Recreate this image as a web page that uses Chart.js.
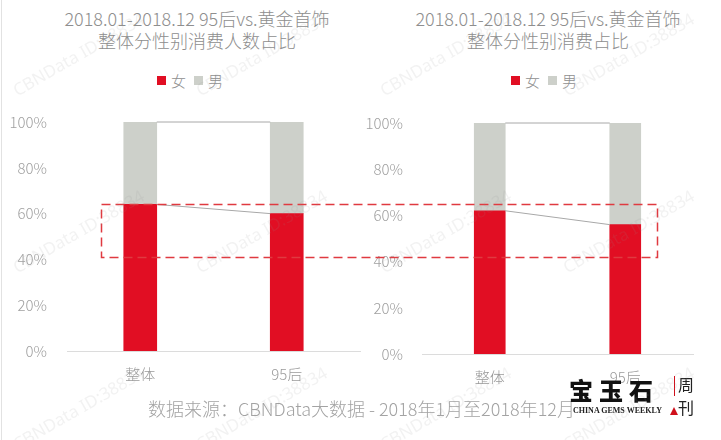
<!DOCTYPE html>
<html>
<head>
<meta charset="utf-8">
<script src="https://cdn.jsdelivr.net/npm/chart.js@4"></script>
<style>
  html, body { margin:0; padding:0; background:#fff; }
  body { width:721px; height:440px; position:relative; overflow:hidden; font-family:"Noto Sans CJK SC","Noto Sans",sans-serif; }
  .abs { position:absolute; }
  .title { color:#8e8e8e; font-size:18px; line-height:22px; text-align:center; white-space:nowrap; font-weight:300; }
  .legend { display:flex; align-items:center; font-size:15px; color:#8f8f8f; white-space:nowrap; font-weight:300; }
  .sw { width:9px; height:9px; display:inline-block; margin-right:5px; }
  .footer { color:#a3a3a3; font-size:18px; white-space:nowrap; font-weight:300; }
  .wm { color:rgba(150,150,150,0.12); font-size:17px; white-space:nowrap; transform-origin:0 100%; transform:rotate(-30deg); font-family:"Noto Sans","DejaVu Sans",sans-serif; }
</style>
</head>
<body>
<div class="abs" style="left:1px;top:0;width:1px;height:440px;background:#e2e2e2"></div>

<div class="abs title" style="left:0;top:7px;width:394px">2018.01-2018.12 95后vs.黄金首饰<br>整体分性别消费人数占比</div>
<div class="abs title" style="left:368px;top:7px;width:360px">2018.01-2018.12 95后vs.黄金首饰<br>整体分性别消费占比</div>

<div class="abs legend" style="left:157px;top:70px"><span class="sw" style="background:#e10e23"></span>女<span class="sw" style="background:#cdd0ca;margin-left:8px"></span>男</div>
<div class="abs legend" style="left:511px;top:70px"><span class="sw" style="background:#e10e23"></span>女<span class="sw" style="background:#cdd0ca;margin-left:8px"></span>男</div>

<canvas id="c1" class="abs" style="left:0;top:100px" width="362" height="290"></canvas>
<canvas id="c2" class="abs" style="left:360px;top:100px" width="361" height="290"></canvas>
<canvas id="ov" class="abs" style="left:0;top:0;pointer-events:none" width="721" height="440"></canvas>

<div class="abs footer" style="left:148px;top:395px">数据来源：CBNData大数据 - 2018年1月至2018年12月</div>

<div class="abs" style="left:569px;top:372px;font-size:24px;font-weight:900;color:#111;letter-spacing:6px;font-family:'Noto Sans CJK SC',serif">宝玉石</div>
<div class="abs" style="left:573px;top:406px;font-size:8px;font-weight:bold;color:#222;font-family:'Liberation Serif','DejaVu Serif',serif;background:#fff;padding-right:1px">CHINA GEMS WEEKLY</div>
<div class="abs" style="left:670px;top:407px;width:0;height:0;border-left:4px solid transparent;border-right:4px solid transparent;border-bottom:8px solid #d0101c"></div>
<div class="abs" style="left:674px;top:376px;width:1px;height:20px;background:#d0101c"></div>
<div class="abs" style="left:678px;top:373px;font-size:16px;line-height:23px;color:#222;font-family:'Noto Sans CJK SC',sans-serif">周<br>刊</div>

<div id="wms"></div>

<script>
// ---- data ----
const categories = ['整体', '95后'];
const femaleLeft  = [64, 60];
const maleLeft    = [36, 40];
const femaleRight = [62, 56];
const maleRight   = [38, 44];
const seriesNames = ['女', '男'];
const yTickValues = [0, 20, 40, 60, 80, 100];
const highlightRange = [41, 64];

const RED = '#e10e23';
const GREY = '#cdd0ca';

const seriesLines = {
  id: 'seriesLines',
  afterDatasetsDraw(chart) {
    const ctx = chart.ctx;
    ctx.save();
    ctx.strokeStyle = '#a8a8a8';
    ctx.lineWidth = 1;
    for (let d = 0; d < chart.data.datasets.length; d++) {
      const bars = chart.getDatasetMeta(d).data;
      for (let i = 0; i < bars.length - 1; i++) {
        const a = bars[i], b = bars[i + 1];
        ctx.beginPath();
        ctx.moveTo(a.x + a.width / 2, a.y);
        ctx.lineTo(b.x - b.width / 2, b.y);
        ctx.stroke();
      }
    }
    ctx.restore();
  }
};

function makeChart(id, female, male, yWidth, barW, pad) {
  return new Chart(document.getElementById(id), {
    type: 'bar',
    data: {
      labels: categories,
      datasets: [
        { label: seriesNames[0], data: female, backgroundColor: RED, barThickness: barW },
        { label: seriesNames[1], data: male, backgroundColor: GREY, barThickness: barW }
      ]
    },
    options: {
      responsive: false,
      animation: false,
      layout: { padding: pad },
      plugins: { legend: { display: false }, tooltip: { enabled: false } },
      scales: {
        x: {
          stacked: true,
          grid: { display: false },
          border: { color: '#dcdcdc', width: 1 },
          ticks: { color: '#9a9a9a', font: { size: 15, family: 'Noto Sans CJK SC', weight: 300 }, padding: 6 },
          afterFit(s) { s.height = 30; }
        },
        y: {
          stacked: true,
          min: 0, max: 100,
          afterBuildTicks(s) { s.ticks = yTickValues.map(v => ({ value: v })); },
          grid: { display: false },
          border: { display: false },
          ticks: { color: '#a0a0a0', font: { size: 15, family: 'Noto Sans CJK SC', weight: 300 }, padding: yWidth === 67 ? 12 : 11, callback: v => v + '%' },
          afterFit(s) { s.width = yWidth; }
        }
      }
    },
    plugins: [seriesLines]
  });
}

const c1 = makeChart('c1', femaleLeft, maleLeft, 67, 33, { top: 22, right: 2, bottom: 9, left: 0 });
const c2 = makeChart('c2', femaleRight, maleRight, 62, 31, { top: 23, right: 28, bottom: 6, left: 0 });

// highlight dashed box spanning both charts
(function () {
  const ctx = document.getElementById('ov').getContext('2d');
  const x0 = 0 + c1.scales.x.getPixelForValue(-0.27);
  const x1 = 360 + c2.scales.x.getPixelForValue(1.23);
  const yTop = 100 + c1.scales.y.getPixelForValue(highlightRange[1]);
  const yBot = 100 + c1.scales.y.getPixelForValue(highlightRange[0]);
  ctx.strokeStyle = '#e03a40';
  ctx.lineWidth = 1.5;
  ctx.setLineDash([9, 5]);
  ctx.strokeRect(Math.round(x0) + 0.5, Math.round(yTop) + 0.5, Math.round(x1 - x0), Math.round(yBot - yTop));
})();

// watermarks
(function () {
  const host = document.getElementById('wms');
  const xs = [20, 203, 387, 570];
  const ys = [100, 277, 454];
  ys.forEach(y => xs.forEach(x => {
    const d = document.createElement('div');
    d.className = 'abs wm';
    d.textContent = 'CBNData ID:38834';
    d.style.left = x + 'px';
    d.style.top = (y - 22) + 'px';
    host.appendChild(d);
  }));
})();
</script>
</body>
</html>
